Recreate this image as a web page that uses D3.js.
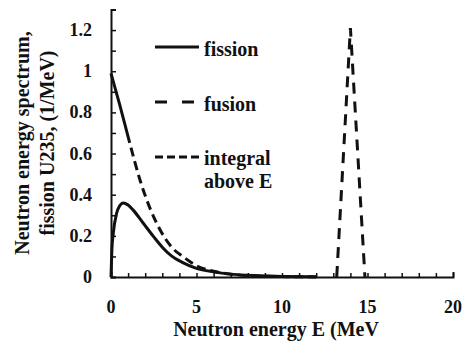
<!DOCTYPE html>
<html><head><meta charset="utf-8">
<script src="https://cdn.jsdelivr.net/npm/d3@7"></script>
<style>body{margin:0;background:#fff}svg{display:block}</style>
</head><body>
<svg id="c" width="462" height="343"></svg>
<script>
const fissionE = [0, 0.05, 0.13, 0.33, 0.5, 0.72, 1.0, 1.3, 1.9, 2.5, 3.0, 3.5, 4.2, 5.0, 6.0, 7.0, 8.0, 10.0, 12.0];
const fissionV = [0, 0.13, 0.21, 0.31, 0.345, 0.36, 0.35, 0.325, 0.26, 0.195, 0.145, 0.105, 0.07, 0.042, 0.025, 0.014, 0.008, 0.003, 0.001];
const integralE = [0, 0.5, 1.1, 1.7, 2.3, 2.9, 3.6, 4.2, 5.0, 6.0, 7.0, 8.0, 10.0, 12.0];
const integralV = [0.99, 0.84, 0.65, 0.47, 0.33, 0.225, 0.14, 0.1, 0.055, 0.028, 0.014, 0.007, 0.002, 0.0005];
const fusionE = [13.2, 14.0, 14.85];
const fusionV = [0, 1.21, 0];
const xTickLabels = [0, 5, 10, 15, 20];
const yTickLabels = [0, 0.2, 0.4, 0.6, 0.8, 1, 1.2];

const svg = d3.select("#c");
const x = d3.scaleLinear().domain([0, 20]).range([111, 453]);
const y = d3.scaleLinear().domain([0, 1.3]).range([277, 9.5]);

// axes
const xAxis = d3.axisBottom(x).tickValues(d3.range(0, 21, 1)).tickSizeInner(-4).tickSizeOuter(-5).tickFormat("");
const gx = svg.append("g").attr("transform", `translate(0,${y(0)})`).call(xAxis);
gx.select(".domain").attr("stroke", "#111").attr("stroke-width", 2);
gx.selectAll(".tick line").attr("stroke", "#111").attr("stroke-width", 1.5);

const yAxis = d3.axisLeft(y).tickValues(d3.range(0, 14).map(i => i / 10)).tickSizeInner(-5).tickSizeOuter(-5).tickFormat("");
const gy = svg.append("g").attr("transform", `translate(${x(0)},0)`).call(yAxis);
gy.select(".domain").attr("stroke", "#111").attr("stroke-width", 2);
gy.selectAll(".tick line").attr("stroke", "#111").attr("stroke-width", 1.5);

function T(sel, size) {
  return sel.style("font-family", '"Liberation Serif"').style("font-weight", "bold")
    .style("font-size", size + "px").attr("fill", "#111");
}

T(svg.append("g").selectAll("text").data(yTickLabels).join("text"), 18)
  .attr("x", 92).attr("y", d => y(d) + 6).attr("text-anchor", "end").text(d => d);
T(svg.append("g").selectAll("text").data(xTickLabels).join("text"), 18)
  .attr("x", d => x(d)).attr("y", 313).attr("text-anchor", "middle").text(d => d);

// axis titles
T(svg.append("text"), 20).attr("x", 276).attr("y", 336).attr("text-anchor", "middle")
  .text("Neutron energy E (MeV");
const yl = T(svg.append("text"), 20).attr("transform", "translate(0,143) rotate(-90)").attr("text-anchor", "middle");
yl.append("tspan").attr("x", 0).attr("y", 29).text("Neutron energy spectrum,");
yl.append("tspan").attr("x", 0).attr("y", 54).text("fission U235, (1/MeV)");

// curves
const line = d3.line().x(d => x(d[0])).y(d => y(d[1])).curve(d3.curveMonotoneX);
const lineLin = d3.line().x(d => x(d[0])).y(d => y(d[1]));
const integ = svg.append("path").datum(integralE.map((e, i) => [e, integralV[i]])).attr("d", line)
  .attr("fill", "none").attr("stroke", "#111").attr("stroke-width", 3);
// solid start segment then dashes (as in the source figure)
const L = integ.node().getTotalLength();
const dash = [72];
let acc = 72;
while (acc < L + 20) { dash.push(5, 9); acc += 14; }
integ.attr("stroke-dasharray", dash.join(","));
svg.append("path").datum(fissionE.map((e, i) => [e, fissionV[i]])).attr("d", line)
  .attr("fill", "none").attr("stroke", "#111").attr("stroke-width", 3);
svg.append("path").datum(fusionE.map((e, i) => [e, fusionV[i]])).attr("d", lineLin)
  .attr("fill", "none").attr("stroke", "#111").attr("stroke-width", 3).attr("stroke-dasharray", "11,8");

// legend
const leg = [
  {label: ["fission"], dash: null, ly: 47, ty: 56},
  {label: ["fusion"], dash: "12,15", ly: 102, ty: 111},
  {label: ["integral", "above E"], dash: "8,4", ly: 157, ty: 165}
];
leg.forEach(l => {
  const ln = svg.append("line").attr("x1", 155).attr("x2", 199).attr("y1", l.ly).attr("y2", l.ly)
    .attr("stroke", "#111").attr("stroke-width", 3);
  if (l.dash) ln.attr("stroke-dasharray", l.dash);
  l.label.forEach((t, i) => T(svg.append("text"), 20).attr("x", 204).attr("y", l.ty + i * 23).text(t));
});
</script>
</body></html>
